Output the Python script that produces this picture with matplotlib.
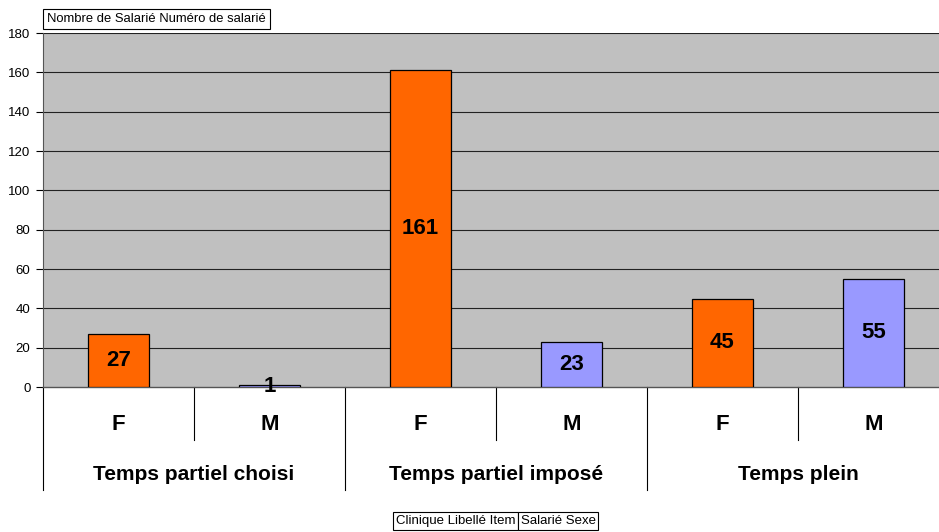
import matplotlib
matplotlib.use("Agg")
import matplotlib.pyplot as plt

plt.rcParams['font.family'] = ['Liberation Sans', 'DejaVu Sans']

groups = ["Temps partiel choisi", "Temps partiel imposé", "Temps plein"]
sexes = ["F", "M", "F", "M", "F", "M"]
values = [27, 1, 161, 23, 45, 55]
colors = ["#ff6600", "#9999ff", "#ff6600", "#9999ff", "#ff6600", "#9999ff"]
yticks = [0, 20, 40, 60, 80, 100, 120, 140, 160, 180]
title_box = "Nombre de Salarié Numéro de salarié"
bottom_boxes = ["Clinique Libellé Item", "Salarié Sexe"]

W, H = 939, 532
fig = plt.figure(figsize=(W / 100, H / 100), dpi=100)
ax = fig.add_axes([43 / W, 1 - 387 / H, 906 / W, (387 - 33) / H])
ax.set_facecolor("#c0c0c0")

x = [i + 0.5 for i in range(len(values))]
ax.set_xlim(0, 6)
ax.set_ylim(0, 180)
ax.set_yticks(yticks)
ax.set_yticklabels([str(v) for v in yticks], fontsize=9.5)
ax.tick_params(axis='y', length=5, width=0.8, pad=4)
ax.set_xticks([])
for yv in yticks[1:]:
    ax.axhline(yv, color="#222222", lw=0.8, zorder=1)

ax.bar(x, values, width=0.4, color=colors, edgecolor="black", linewidth=0.9, zorder=3)
for xi, v in zip(x, values):
    ax.text(xi, v / 2, str(v), ha="center", va="center", fontsize=16, fontweight="bold", zorder=4)

for s in ["top", "right"]:
    ax.spines[s].set_visible(False)
ax.spines["bottom"].set_color("#555555")
ax.spines["bottom"].set_linewidth(1.0)
ax.spines["left"].set_color("#555555")

trans = ax.get_xaxis_transform()
ah = 387 - 33
y_sub = -(440 - 387) / ah
y_grp = -(490 - 387) / ah
for i in range(1, 6, 2):
    ax.plot([i, i], [0, y_sub], transform=trans, color="black", lw=0.8, clip_on=False)
for i in [0, 2, 4]:
    ax.plot([i, i], [0, y_grp], transform=trans, color="black", lw=0.8, clip_on=False)
for xi, s in zip(x, sexes):
    ax.text(xi, -(424 - 387) / ah, s, transform=trans, ha="center", va="center",
            fontsize=16, fontweight="bold")
for gi, g in enumerate(groups):
    ax.text(2 * gi + 1, -(475 - 387) / ah, g, transform=trans, ha="center", va="center",
            fontsize=15, fontweight="bold")

fig.text(47 / W, 1 - 19 / H, title_box, ha="left", va="center", fontsize=9.4,
         bbox=dict(boxstyle="square,pad=0.3", fc="white", ec="black", lw=0.8))

fs = 9.5
pad_px = 0.2 * fs * 100 / 72
mid = 518
fig.text((mid - pad_px) / W, 1 - 521 / H, bottom_boxes[0], ha="right", va="center", fontsize=fs,
         bbox=dict(boxstyle="square,pad=0.2", fc="white", ec="black", lw=0.8))
fig.text((mid + pad_px) / W, 1 - 521 / H, bottom_boxes[1], ha="left", va="center", fontsize=fs,
         bbox=dict(boxstyle="square,pad=0.2", fc="white", ec="black", lw=0.8))

fig.savefig("out.png", dpi=100)
